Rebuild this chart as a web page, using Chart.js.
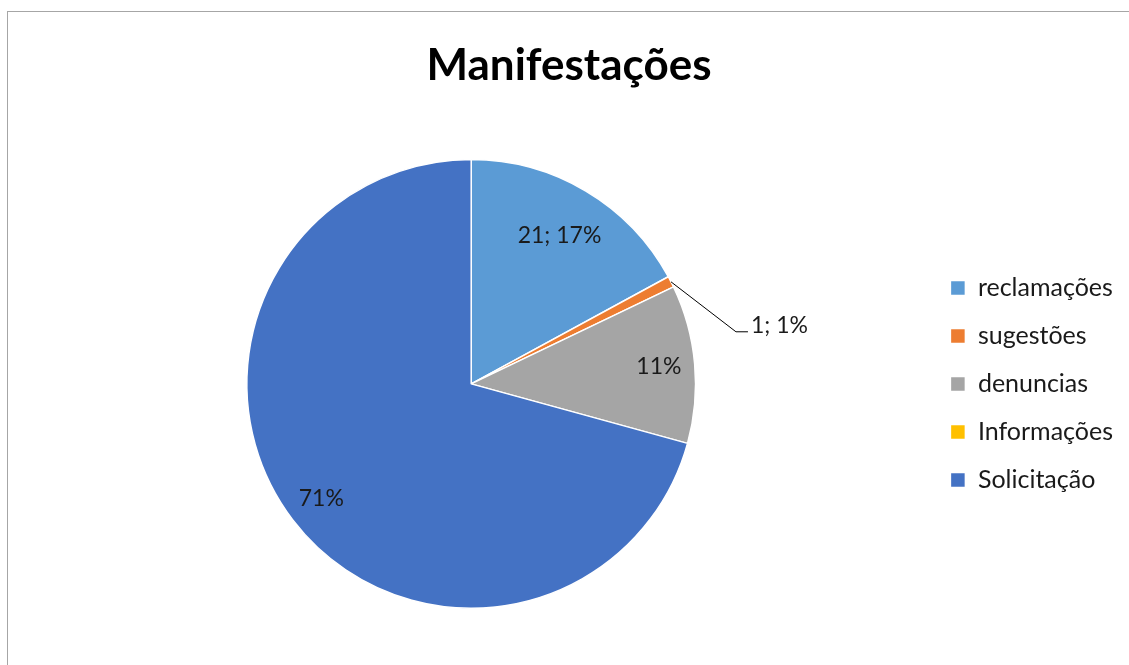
<!DOCTYPE html>
<html>
<head>
<meta charset="utf-8">
<script src="https://cdn.jsdelivr.net/npm/chart.js@4.4.1/dist/chart.umd.min.js"></script>
<style>
  html, body { margin: 0; padding: 0; background: #fff; overflow: hidden; }
  #frame { position: absolute; left: 7px; top: 11px; width: 1200px; height: 700px; border: 1px solid #a6a6a6; border-width: 1px 0 0 1px; }
  #wrap { position: absolute; left: 0; top: 0; width: 1129px; height: 665px; }
</style>
</head>
<body>
<div id="frame"></div>
<div id="wrap"><canvas id="pie-chart"></canvas></div>
<script>
const labels = ['reclamações', 'sugestões', 'denuncias', 'Informações', 'Solicitação'];
const values = [21, 1, 14, 0, 87];
const colors = ['#5B9BD5', '#ED7D31', '#A5A5A5', '#FFC000', '#4472C4'];
// which slices show "value; pct" instead of only "pct"
const showValue = [true, true, false, false, false];

const fontFam = 'Lato, "Open Sans", sans-serif';

// draws the data labels like excel does
const pieLabels = {
  id: 'pieLabels',
  afterDatasetsDraw(chart) {
    const ctx = chart.ctx;
    const meta = chart.getDatasetMeta(0);
    const total = values.reduce((a, b) => a + b, 0);
    ctx.save();
    ctx.font = '23px ' + fontFam;
    ctx.fillStyle = '#1a1a1a';
    ctx.textBaseline = 'middle';
    meta.data.forEach((arc, i) => {
      if (!values[i]) return;
      const pct = Math.round(values[i] / total * 100) + '%';
      const txt = showValue[i] ? values[i] + '; ' + pct : pct;
      const mid = (arc.startAngle + arc.endAngle) / 2;
      const frac = values[i] / total;
      if (frac < 0.03) {
        // small slice: outside label with leader line
        const ex = arc.x + Math.cos(mid) * arc.outerRadius;
        const ey = arc.y + Math.sin(mid) * arc.outerRadius;
        const kx = ex + 65, ky = ey + 50;
        ctx.strokeStyle = '#000';
        ctx.lineWidth = 1;
        ctx.beginPath();
        ctx.moveTo(ex, ey);
        ctx.lineTo(kx, ky);
        ctx.lineTo(kx + 12, ky);
        ctx.stroke();
        ctx.textAlign = 'left';
        ctx.fillText(txt, kx + 15, ky - 6);
      } else {
        const r = arc.outerRadius * (i === 0 ? 0.77 : 0.84);
        ctx.textAlign = 'center';
        ctx.fillText(txt, arc.x + Math.cos(mid) * r, arc.y + Math.sin(mid) * r);
      }
    });
    ctx.restore();
  }
};

new Chart(document.getElementById('pie-chart'), {
  type: 'pie',
  data: {
    labels: labels,
    datasets: [{
      data: values,
      backgroundColor: colors,
      borderColor: '#ffffff',
      borderWidth: 1.5
    }]
  },
  options: {
    responsive: true,
    maintainAspectRatio: false,
    animation: false,
    layout: { padding: { left: 15, right: 6, top: 20, bottom: 56 } },
    plugins: {
      tooltip: { enabled: false },
      title: {
        display: true,
        text: 'Manifestações',
        color: '#000',
        font: { family: fontFam, size: 44, weight: 'bold' },
        padding: { top: 19, bottom: 67 }
      },
      legend: {
        position: 'right',
        fullSize: false,
        labels: {
          color: '#1a1a1a',
          font: { family: fontFam, size: 25 },
          boxWidth: 15,
          boxHeight: 15,
          padding: 23
        }
      }
    }
  },
  plugins: [pieLabels]
});
</script>
</body>
</html>
